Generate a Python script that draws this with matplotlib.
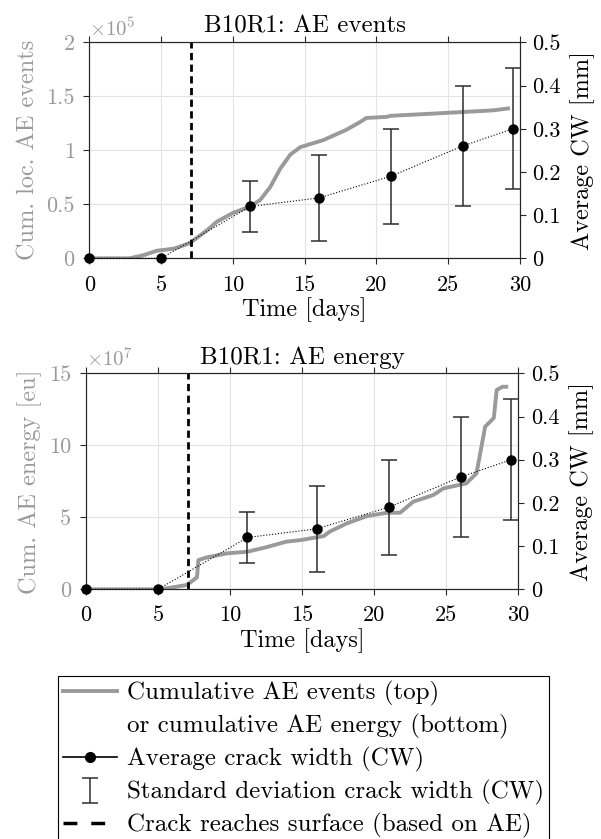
import numpy as np
import matplotlib
matplotlib.use("Agg")
import matplotlib.pyplot as plt
from matplotlib.lines import Line2D

plt.rcParams.update({
    "font.family": "serif",
    "font.serif": ["cmr10"],
    "mathtext.fontset": "cm",
    "axes.formatter.use_mathtext": True,
    "axes.unicode_minus": False,
})

GRAY = "#9a9a9a"
DARK = "#262626"
FT = 16      # tick labels
FL = 17.5    # axis labels
FLEG = 18    # legend
FTI = 18     # titles

# cumulative AE events (x 1e5) vs time [days]
t_events = [0, 2.8, 3.8, 4.7, 5.9, 7.0, 8.2, 8.9, 10.0, 11.2, 11.9, 12.6, 13.3,
            14.0, 14.7, 16.3, 17.9, 18.9, 19.3, 20.7, 21.0, 23.9, 28.1, 29.3]
ae_events = [0, 0, 0.03, 0.07, 0.09, 0.14, 0.26, 0.34, 0.42, 0.48, 0.54, 0.66, 0.83,
             0.96, 1.03, 1.095, 1.19, 1.265, 1.30, 1.31, 1.32, 1.34, 1.37, 1.39]

# cumulative AE energy (x 1e7) vs time [days]
t_energy = [0, 5.0, 5.6, 7.0, 7.7, 7.8, 8.4, 9.8, 11.2, 12.5, 13.9, 14.9, 16.5, 16.9,
            18.1, 19.5, 20.9, 21.8, 22.7, 24.1, 24.8, 26.4, 27.1, 27.7, 28.3, 28.5,
            28.9, 29.3]
ae_energy = [0, 0, 0.07, 0.3, 0.83, 2.03, 2.22, 2.5, 2.61, 2.92, 3.31, 3.42, 3.70, 4.0,
             4.58, 5.09, 5.32, 5.32, 6.08, 6.55, 7.01, 7.36, 8.06, 11.3, 11.9, 13.84,
             14.07, 14.07]

# average crack width and its standard deviation
t_cw = [0, 5, 11.2, 16, 21, 26, 29.5]
cw_mean = [0, 0, 0.12, 0.14, 0.19, 0.26, 0.30]
cw_std = [0, 0, 0.06, 0.10, 0.11, 0.14, 0.14]

t_crack = 7.1

panels = [
    dict(rect=[0.1486, 0.6921, 0.7166, 0.2574], t=t_events, y=ae_events,
         ylim=(0, 2), yticks=[0, 0.5, 1, 1.5, 2], ylabels=["0", "0.5", "1", "1.5", "2"],
         exp=r"$\times10^5$", ylabel="Cum. loc. AE events", title="B10R1: AE events"),
    dict(rect=[0.1431, 0.2976, 0.7193, 0.2574], t=t_energy, y=ae_energy,
         ylim=(0, 15), yticks=[0, 5, 10, 15], ylabels=["0", "5", "10", "15"],
         exp=r"$\times10^7$", ylabel="Cum. AE energy [eu]", title="B10R1: AE energy"),
]

fig = plt.figure(figsize=(6.01, 8.39), dpi=100)
t_arr, m_arr, s_arr = np.array(t_cw), np.array(cw_mean), np.array(cw_std)
nz = s_arr > 0

for p in panels:
    ax = fig.add_axes(p["rect"])
    ax.plot(p["t"], p["y"], color=GRAY, lw=2.8, solid_capstyle="butt", zorder=2)
    ax.axvline(t_crack, color="black", lw=2, ls=(0, (2.6, 1.6)), zorder=3)
    ax.set_xlim(0, 30); ax.set_ylim(*p["ylim"])
    ax.set_xticks(range(0, 31, 5))
    ax.set_xticklabels([str(v) for v in range(0, 31, 5)], fontsize=FT)
    ax.set_yticks(p["yticks"]); ax.set_yticklabels(p["ylabels"], fontsize=FT, color=GRAY)
    ax.grid(True, color="#e3e3e3", lw=0.8)
    ax.set_axisbelow(True)
    ax.tick_params(direction="out", length=4, width=0.8, color=DARK, top=True)
    ax.tick_params(axis="x", pad=8)
    ax.tick_params(axis="y", pad=6.5)
    for s in ax.spines.values():
        s.set_color(DARK); s.set_linewidth(0.8)
    ax.set_ylabel(p["ylabel"], fontsize=FL, color=GRAY, labelpad=5)
    ax.set_xlabel("Time [days]", fontsize=FL, labelpad=2)
    ax.set_title(p["title"], fontsize=FTI, pad=7)
    ax.text(0.0, 1.01, p["exp"], transform=ax.transAxes, color=GRAY, fontsize=FT - 1,
            ha="left", va="bottom")

    ax2 = ax.twinx()
    eb = ax2.errorbar(t_arr[nz], m_arr[nz], yerr=s_arr[nz], fmt="none", ecolor="#2e2e2e",
                      elinewidth=1.1, capsize=5.5, capthick=1.1, zorder=3)
    ax2.plot(t_cw, cw_mean, color="black", lw=0.8, ls=":", marker="o", ms=6.5,
             clip_on=False, zorder=4)
    ax2.set_ylim(0, 0.5)
    ax2.set_yticks([0, 0.1, 0.2, 0.3, 0.4, 0.5])
    ax2.set_yticklabels(["0", "0.1", "0.2", "0.3", "0.4", "0.5"], fontsize=FT)
    ax2.tick_params(direction="out", length=4, width=0.8, color=DARK, pad=5)
    for s in ax2.spines.values():
        s.set_color(DARK); s.set_linewidth(0.8)
    ax2.set_ylabel("Average CW [mm]", fontsize=FL, labelpad=7)

handles = [
    Line2D([], [], color=GRAY, lw=2.8),
    Line2D([], [], color="none"),
    Line2D([], [], color="black", lw=1.2, marker="o", ms=7),
    eb,
    Line2D([], [], color="black", lw=2.5, ls=(0, (4, 4))),
]
labels = ["Cumulative AE events (top)", "or cumulative AE energy (bottom)",
          "Average crack width (CW)", "Standard deviation crack width (CW)",
          "Crack reaches surface (based on AE)"]
leg = fig.legend(handles, labels, loc="upper left", bbox_to_anchor=(58 / 601, 1 - 676 / 839),
                 fontsize=FLEG, frameon=True, fancybox=False, framealpha=1,
                 edgecolor="black", borderpad=0.2, handlelength=2.16, handletextpad=0.4,
                 labelspacing=0.32, borderaxespad=0, numpoints=1)
leg.get_frame().set_linewidth(0.8)

fig.savefig("out.png", dpi=100, facecolor="white")
